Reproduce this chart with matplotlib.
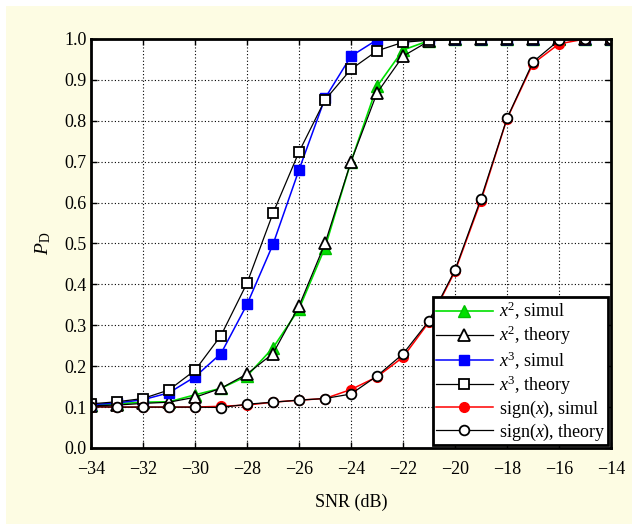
import matplotlib.pyplot as plt
from matplotlib.patches import Rectangle

snr = [-34, -33, -32, -31, -30, -29, -28, -27, -26, -25, -24,
       -23, -22, -21, -20, -19, -18, -17, -16, -15, -14]

x2_simul = [0.105, 0.108, 0.112, 0.113, 0.130, 0.146, 0.176, 0.245, 0.340, 0.490, 0.700,
            0.884, 0.973, 0.996, 1.0, 1.0, 1.0, 1.0, 1.0, 1.0, 1.0]
x2_theory = [0.103, 0.105, 0.109, 0.112, 0.124, 0.146, 0.181, 0.231, 0.347, 0.500, 0.700,
             0.868, 0.958, 0.995, 1.0, 1.0, 1.0, 1.0, 1.0, 1.0, 1.0]
x3_simul = [0.106, 0.110, 0.118, 0.135, 0.174, 0.231, 0.351, 0.498, 0.680, 0.855, 0.958,
            0.998, 1.0, 1.0, 1.0, 1.0, 1.0, 1.0, 1.0, 1.0, 1.0]
x3_theory = [0.108, 0.113, 0.121, 0.142, 0.190, 0.275, 0.403, 0.574, 0.724, 0.851, 0.926,
             0.971, 0.992, 0.997, 1.0, 1.0, 1.0, 1.0, 1.0, 1.0, 1.0]
sign_simul = [0.101, 0.100, 0.100, 0.100, 0.100, 0.102, 0.105, 0.112, 0.117, 0.121, 0.143,
              0.174, 0.222, 0.308, 0.432, 0.605, 0.805, 0.940, 0.988, 1.0, 1.0]
sign_theory = [0.101, 0.100, 0.100, 0.100, 0.100, 0.099, 0.107, 0.112, 0.117, 0.121, 0.132,
               0.176, 0.230, 0.311, 0.435, 0.610, 0.806, 0.944, 0.997, 1.0, 1.0]

plt.rcParams['font.family'] = ['Liberation Serif', 'DejaVu Serif']
plt.rcParams['mathtext.fontset'] = 'custom'
plt.rcParams['mathtext.rm'] = 'Liberation Serif'
plt.rcParams['mathtext.it'] = 'Liberation Serif:italic'

fig = plt.figure(figsize=(6.32, 5.24), dpi=100, facecolor='white')
fig.patches.append(Rectangle((6 / 632, 0), 1, 1 - 6 / 524, transform=fig.transFigure,
                             facecolor='#FDFCE3', edgecolor='none', zorder=-10))
ax = fig.add_axes([91 / 632, 1 - 448 / 524, 520 / 632, 409 / 524])

ax.plot(snr, x2_simul, color='#00E000', lw=1.2, marker='^', ms=8,
        mfc='#00E000', mec='#00C000', label=r'$x^2$, simul')
ax.plot(snr, x2_theory, color='black', lw=0.9, marker='^', ms=8,
        mfc='white', mec='black', mew=1.3, label=r'$x^2$, theory')
ax.plot(snr, x3_simul, color='#0000FF', lw=1.1, marker='s', ms=6.5,
        mfc='#0000FF', mec='#0000FF', label=r'$x^3$, simul')
ax.plot(snr, x3_theory, color='black', lw=0.9, marker='s', ms=6.5,
        mfc='white', mec='black', mew=1.3, label=r'$x^3$, theory')
ax.plot(snr, sign_simul, color='#FF0000', lw=1.1, marker='o', ms=7,
        mfc='#FF0000', mec='#FF0000', label=r'sign($x$), simul')
ax.plot(snr, sign_theory, color='black', lw=0.9, marker='o', ms=7,
        mfc='white', mec='black', mew=1.3, label=r'sign($x$), theory')

ax.set_xlim(-34, -14)
ax.set_ylim(0, 1)
ax.set_xticks(range(-34, -13, 2))
ax.set_yticks([i / 10 for i in range(11)])
ax.set_yticklabels([f'{i / 10:.1f}' for i in range(11)])
ax.tick_params(direction='in', labelsize=13, length=4, width=1,
               top=True, right=True)
ax.tick_params(axis='x', pad=9)
ax.tick_params(axis='y', pad=3)
ax.grid(True, color='black', linestyle=(0, (1, 2)), linewidth=0.8)
for s in ax.spines.values():
    s.set_linewidth(2)
    s.set_zorder(5)

ax.set_xlabel('SNR (dB)', fontsize=13, labelpad=12)
ax.set_ylabel(r'$P_{\mathrm{D}}$', fontsize=14, labelpad=8)

leg = ax.legend(loc='lower right', fontsize=13, handlelength=3.2, handletextpad=0.3,
                borderpad=0.15, labelspacing=0.1, borderaxespad=0.15,
                fancybox=False, framealpha=1, edgecolor='black')
leg.get_frame().set_linewidth(2)

fig.savefig('out.png', dpi=100, facecolor=fig.get_facecolor())
